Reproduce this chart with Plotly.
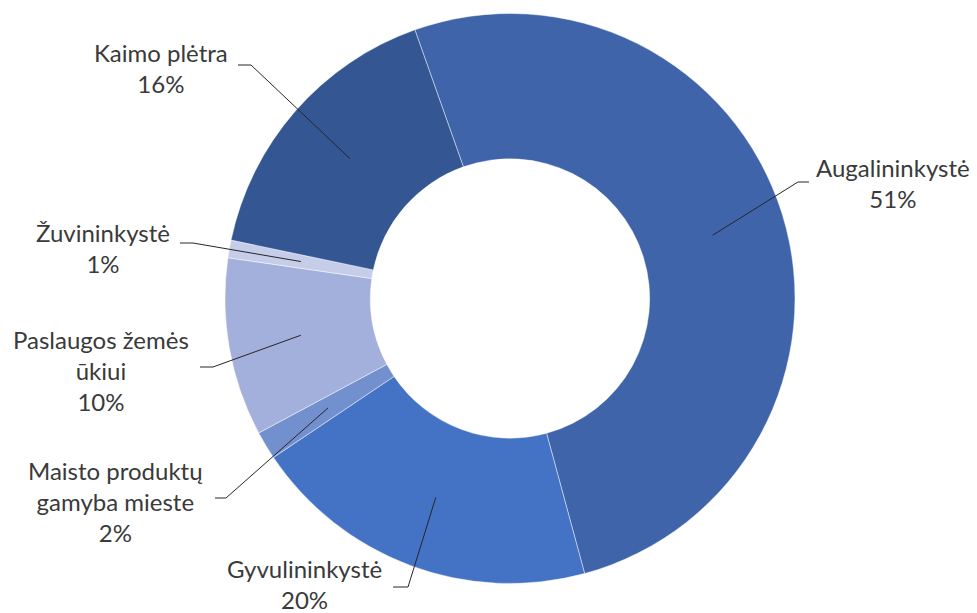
import math
import plotly.graph_objects as go

# ---- data ----
labels = ["Augalininkystė", "Gyvulininkystė", "Maisto produktų gamyba mieste",
          "Paslaugos žemės ūkiui", "Žuvininkystė", "Kaimo plėtra"]
label_lines = ["Augalininkystė", "Gyvulininkystė", "Maisto produktų<br>gamyba mieste",
               "Paslaugos žemės<br>ūkiui", "Žuvininkystė", "Kaimo plėtra"]
values = [51.2, 19.8, 1.6, 10.1, 1.0, 16.3]

# ---- style / layout ----
colors = ["#3F64AA", "#4472C4", "#728FCE", "#A2B0DB", "#C5CDE9", "#345793"]
W, H = 977, 613
CX, CY, R = 510, 298.5, 285
HOLE = 0.49
ROT = -19.5
FONT = dict(family="Lato, 'Noto Sans', sans-serif", size=24, color="#3A3A3A")

# label placement in pixels (text centre, leader end, leader elbow)
label_pos = [(893, 183), (304, 584), (115, 501), (101, 370), (103, 248), (161, 68)]
leader_end = [(809, 182), (393, 587), (215, 498), (200, 367), (180, 243), (238, 65)]
leader_elbow = [(798, 182), (408, 587), (226, 498), (213, 367), (193, 243), (251, 65)]


def px(x, y):
    return x / W, 1 - y / H


fig = go.Figure(go.Pie(
    labels=labels, values=values, sort=False, direction="clockwise",
    rotation=ROT, hole=HOLE, textinfo="none", hoverinfo="label+percent",
    marker=dict(colors=colors, line=dict(color="rgba(255,255,255,0.45)", width=1)),
    domain=dict(x=[(CX - R) / W, (CX + R) / W], y=[1 - (CY + R) / H, 1 - (CY - R) / H]),
))

total = sum(values)
cum = 0.0
rm = R * (1 + HOLE) / 2
annotations, shapes = [], []
for i, v in enumerate(values):
    theta = math.radians(ROT + 360 * (cum + v / 2) / total)
    cum += v
    tx, ty = CX + rm * math.sin(theta), CY - rm * math.cos(theta)
    pct = f"{round(100 * v / total)}%"
    ax, ay = px(*label_pos[i])
    annotations.append(dict(text=f"{label_lines[i]}<br>{pct}", x=ax, y=ay,
                            xref="paper", yref="paper", showarrow=False,
                            xanchor="center", yanchor="middle", font=FONT))
    p0 = px(tx, ty)
    p1 = px(*leader_elbow[i])
    p2 = px(*leader_end[i])
    shapes.append(dict(type="path", xref="paper", yref="paper", layer="above",
                       path=f"M {p0[0]} {p0[1]} L {p1[0]} {p1[1]} L {p2[0]} {p2[1]}",
                       line=dict(color="#262626", width=1)))

fig.update_layout(width=W, height=H, margin=dict(l=0, r=0, t=0, b=0),
                  paper_bgcolor="white", plot_bgcolor="white", showlegend=False,
                  annotations=annotations, shapes=shapes)

fig.write_html("out.html", config={"displayModeBar": False},
               post_script="document.body.style.margin='0';document.body.style.overflow='hidden';")
